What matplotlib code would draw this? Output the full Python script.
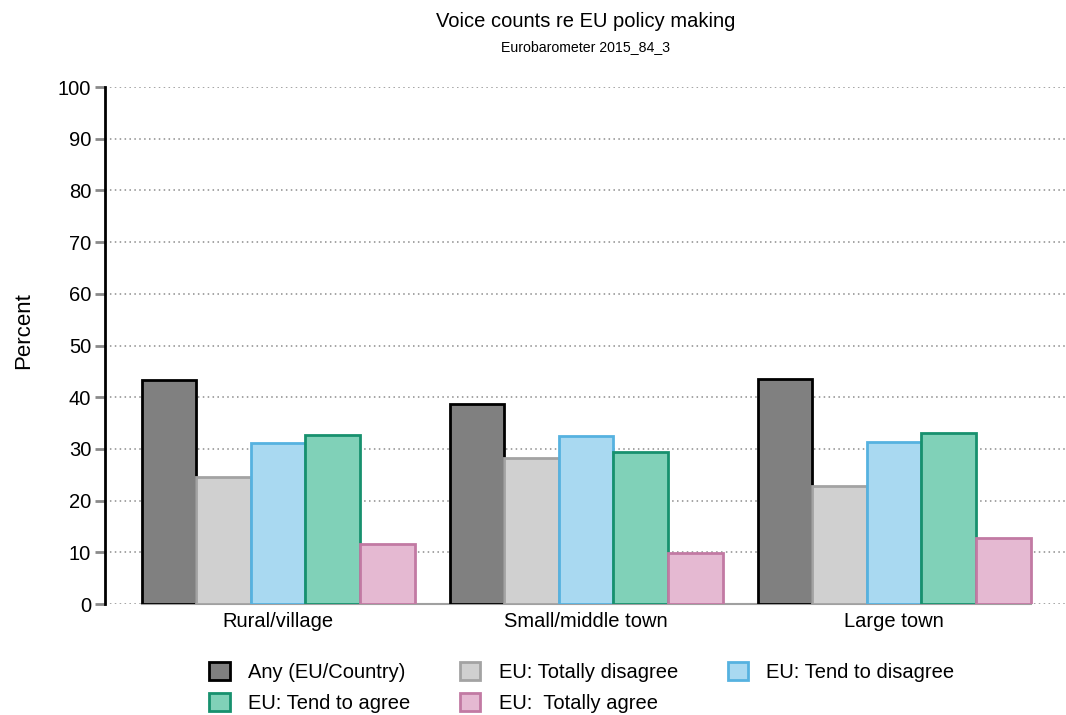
import matplotlib
matplotlib.use("Agg")
import matplotlib.pyplot as plt
from matplotlib.patches import Patch
import numpy as np

plt.rcParams['font.family'] = ['Liberation Sans', 'DejaVu Sans']

categories = ["Rural/village", "Small/middle town", "Large town"]
series_names = ["Any (EU/Country)", "EU: Totally disagree", "EU: Tend to disagree",
                "EU: Tend to agree", "EU:  Totally agree"]
any_eu_country = [43.3, 38.7, 43.5]
totally_disagree = [24.6, 28.2, 22.8]
tend_to_disagree = [31.1, 32.5, 31.3]
tend_to_agree = [32.7, 29.4, 33.1]
totally_agree = [11.6, 9.9, 12.8]
y_ticks = [0, 10, 20, 30, 40, 50, 60, 70, 80, 90, 100]

series = [any_eu_country, totally_disagree, tend_to_disagree, tend_to_agree, totally_agree]
fills = ["#808080", "#d0d0d0", "#a9d9f1", "#80d1b8", "#e5b9d2"]
edges = ["#000000", "#a3a3a3", "#56b2e0", "#17916e", "#c27aa3"]

fig = plt.figure(figsize=(10.66, 7.15), dpi=100)
ax = fig.add_axes([0.0985, 0.1552, 0.9015, 0.7231])

x = np.arange(len(categories))
width = 0.1773
for i, (vals, fc, ec) in enumerate(zip(series, fills, edges)):
    ax.bar(x + (i - 2) * width, vals, width, color=fc, edgecolor=ec,
           linewidth=2, zorder=3)

ax.set_xlim(-0.562, 2.558)
ax.set_ylim(0, 100)
ax.set_yticks(y_ticks)
ax.set_yticklabels([str(t) for t in y_ticks], fontsize=14.5)
ax.grid(axis='y', linestyle=(0, (1, 2.2)), color='#8c8c8c', linewidth=1.1, zorder=1)
ax.set_xticks(x)
ax.set_xticklabels(categories, fontsize=14.5)
ax.tick_params(axis='x', length=0, pad=6)
ax.tick_params(axis='y', length=7, width=2, color='#8a8a8a', pad=3)

# solid baseline under the bars
ax.plot([x[0] - 2.5 * width, x[-1] + 2.5 * width], [0, 0], color='#a0a0a0',
        linewidth=1.5, zorder=2, clip_on=False)

for s in ['top', 'right', 'bottom']:
    ax.spines[s].set_visible(False)
ax.spines['left'].set_linewidth(2)
ax.spines['left'].set_color('black')

ax.set_ylabel("Percent", fontsize=16)
ax.yaxis.set_label_coords(-0.0735, 0.528)

fig.text(0.5495, 0.970, "Voice counts re EU policy making", ha='center', va='center', fontsize=14.5)
fig.text(0.5495, 0.934, "Eurobarometer 2015_84_3", ha='center', va='center', fontsize=10.2)

handles = [Patch(facecolor=fc, edgecolor=ec, linewidth=2) for fc, ec in zip(fills, edges)]
order = [0, 3, 1, 4, 2]
fig.legend([handles[i] for i in order], [series_names[i] for i in order],
           ncol=3, loc='center', bbox_to_anchor=(0.546, 0.039), frameon=False,
           fontsize=14.5, handlelength=1.0, handleheight=1.0, columnspacing=2.5,
           labelspacing=0.55, handletextpad=0.9, borderpad=0.2)

fig.savefig("out.png", dpi=100)
